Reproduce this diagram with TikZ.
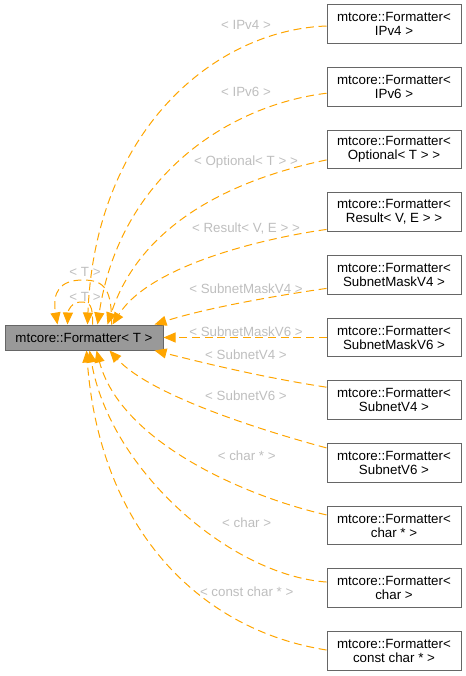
\documentclass[tikz,border=0pt]{standalone}
\usepackage{fontspec}
\setmainfont{Liberation Sans}
\usetikzlibrary{arrows.meta,calc}
\definecolor{edgeorange}{HTML}{FFA500}
\definecolor{labelgray}{HTML}{BEBEBE}
\definecolor{boxborder}{HTML}{666666}
\definecolor{mainfill}{HTML}{999999}
\begin{document}
\begin{tikzpicture}[x=0.75pt,y=-0.75pt,
  classbox/.style={draw=boxborder, fill=white, line width=0.75pt, minimum width=100.5pt,
    minimum height=29pt, inner sep=0pt, align=center, font=\fontsize{10}{10.5}\selectfont},
  mainbox/.style={draw=boxborder, fill=mainfill, line width=0.75pt, minimum width=118.5pt,
    minimum height=18.75pt, inner sep=0pt, font=\fontsize{10}{12}\selectfont},
  edge/.style={draw=edgeorange, line width=0.75pt, dash pattern=on 6pt off 3.5pt,
    -{Triangle[length=9pt,width=7.5pt]}},
  lbl/.style={text=labelgray, inner sep=0pt, font=\fontsize{10}{12}\selectfont}]
\useasboundingbox (0,0) rectangle (466,676);

\node[mainbox] (m) at (84,337.5) {mtcore::Formatter< T >};

\node[classbox] (b0) at (394,24) {mtcore::Formatter<\\IPv4 >};
\node[classbox] (b1) at (394,86.7) {mtcore::Formatter<\\IPv6 >};
\node[classbox] (b2) at (394,149.4) {mtcore::Formatter<\\Optional< T > >};
\node[classbox] (b3) at (394,212.1) {mtcore::Formatter<\\Result< V, E > >};
\node[classbox] (b4) at (394,274.8) {mtcore::Formatter<\\SubnetMaskV4 >};
\node[classbox] (b5) at (394,337.5) {mtcore::Formatter<\\SubnetMaskV6 >};
\node[classbox] (b6) at (394,400.2) {mtcore::Formatter<\\SubnetV4 >};
\node[classbox] (b7) at (394,462.9) {mtcore::Formatter<\\SubnetV6 >};
\node[classbox] (b8) at (394,525.6) {mtcore::Formatter<\\char * >};
\node[classbox] (b9) at (394,588.3) {mtcore::Formatter<\\char >};
\node[classbox] (b10) at (394,651) {mtcore::Formatter<\\const char * >};

% edges into the top of the main node
\draw[edge] ([yshift=-1.5pt]b0.west) .. controls (215,30) and (95,130) .. ($(m.north west)+(83,0)$);
\draw[edge] ([yshift=-4.9pt]b1.west) .. controls (230,105) and (120,175) .. ($(m.north west)+(93,0)$);
\draw[edge] ([yshift=-7.9pt]b2.west) .. controls (230,180) and (140,225) .. ($(m.north west)+(103,0)$);
\draw[edge] ([yshift=-13pt]b3.west) .. controls (265,238) and (150,265) .. ($(m.north west)+(108,0)$);
\draw[edge] ([yshift=-10.2pt]b4.west) .. controls (260,298) and (200,310) .. ($(m.north west)+(150,0)$);
% straight edge
\draw[edge] (b5.west) -- (m.east);
% edges into the bottom of the main node
\draw[edge] ([yshift=9.75pt]b6.west) .. controls (260,377) and (200,362) .. ($(m.south west)+(150,0)$);
\draw[edge] ([yshift=11.25pt]b7.west) .. controls (260,430) and (150,395) .. ($(m.south west)+(105,0)$);
\draw[edge] ([yshift=8pt]b8.west) .. controls (240,495) and (120,440) .. ($(m.south west)+(92,0)$);
\draw[edge] ([yshift=4.7pt]b9.west) .. controls (230,575) and (110,470) .. ($(m.south west)+(85,0)$);
\draw[edge] ([yshift=0.75pt]b10.west) .. controls (200,630) and (100,530) .. ($(m.south west)+(82,0)$);

% self loops
\draw[edge] ($(m.north west)+(107,0)$) .. controls (112,290) and (105,280) .. (83,280)
  .. controls (60,280) and (52,292) .. ($(m.north west)+(53,0)$);
\draw[edge] ($(m.north west)+(88,0)$) .. controls (93,305) and (90,302) .. (81,302)
  .. controls (72,302) and (68,310) .. ($(m.north west)+(63,0)$);

% edge labels
\node[lbl] (l0) at (246,25) {< IPv4 >};
\node[lbl] (l1) at (246,92) {< IPv6 >};
\node[lbl] (l2) at (246,161.7) {< Optional< T > >};
\node[lbl] (l3) at (246,228.3) {< Result< V, E > >};
\node[lbl] (l4) at (246,288.3) {< SubnetMaskV4 >};
\node[lbl] (l5) at (246,331.7) {< SubnetMaskV6 >};
\node[lbl] (l6) at (246,355) {< SubnetV4 >};
\node[lbl] (l7) at (246,396) {< SubnetV6 >};
\node[lbl] (l8) at (246.7,456) {< char * >};
\node[lbl] (l9) at (246.7,522.7) {< char >};
\node[lbl] (l10) at (246.7,591.7) {< const char * >};
\node[lbl] (lt1) at (85,271.7) {< T >};
\node[lbl] (lt2) at (85,296.5) {< T >};
\end{tikzpicture}
\end{document}
